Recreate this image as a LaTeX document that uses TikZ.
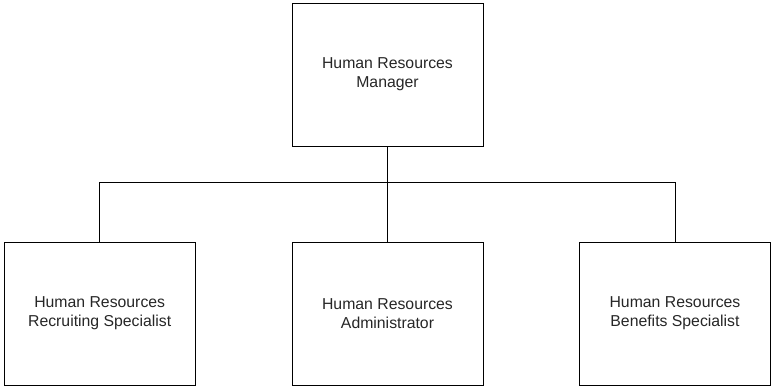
\documentclass[tikz,border=0pt]{standalone}
\usepackage{fontspec}
\setmainfont{Liberation Sans}
\begin{document}
\begin{tikzpicture}[x=1pt,y=-1pt,
  rolebox/.style={draw=black,line width=0.9pt,rectangle,minimum width=191pt,
    minimum height=143pt,inner sep=0pt,align=center,
    font=\fontsize{15.8pt}{18.8pt}\selectfont,text=black!85},
  link/.style={draw=black,line width=0.9pt}]
\useasboundingbox (0,0) rectangle (771,387);
% positions of the four roles
\node[rolebox] (mgr) at (387.5,74.5) {Human Resources\\Manager};
\node[rolebox] (rec) at (99.7,313.5) {Human Resources\\Recruiting Specialist};
\node[rolebox] (adm) at (387.5,313.5) {Human Resources\\Administrator};
\node[rolebox] (ben) at (675,313.5) {Human Resources\\Benefits Specialist};
% horizontal bus of the org chart
\coordinate (bus) at (0,182.3);
\draw[link] (mgr.south) -- (mgr.south |- bus);
\draw[link] (rec.north) -- (rec.north |- bus) -- (ben.north |- bus) -- (ben.north);
\draw[link] (adm.north) -- (adm.north |- bus);
\end{tikzpicture}
\end{document}
